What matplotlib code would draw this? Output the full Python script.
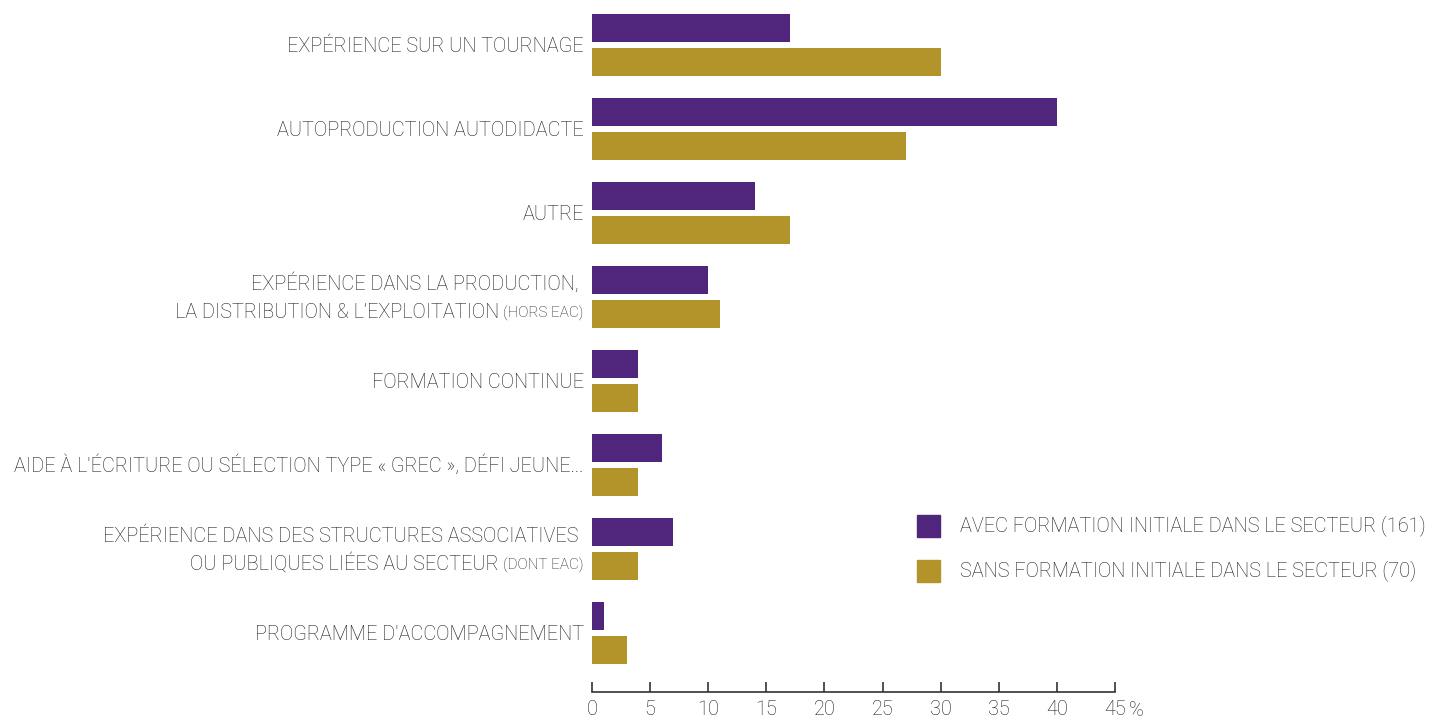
import matplotlib
matplotlib.use("Agg")
import matplotlib.pyplot as plt
import numpy as np
from matplotlib import font_manager

# ---- données ----
categories = [
    ("EXPÉRIENCE SUR UN TOURNAGE", ""),
    ("AUTOPRODUCTION AUTODIDACTE", ""),
    ("AUTRE", ""),
    ("EXPÉRIENCE DANS LA PRODUCTION, \nLA DISTRIBUTION & L’EXPLOITATION", "(HORS EAC)"),
    ("FORMATION CONTINUE", ""),
    ("AIDE À L'ÉCRITURE OU SÉLECTION TYPE « GREC », DÉFI JEUNE...", ""),
    ("EXPÉRIENCE DANS DES STRUCTURES ASSOCIATIVES \nOU PUBLIQUES LIÉES AU SECTEUR", "(DONT EAC)"),
    ("PROGRAMME D'ACCOMPAGNEMENT", ""),
]
avec = [17, 40, 14, 10, 4, 6, 7, 1]
sans = [30, 27, 17, 11, 4, 4, 4, 3]
series_labels = ["AVEC FORMATION INITIALE DANS LE SECTEUR (161)",
                 "SANS FORMATION INITIALE DANS LE SECTEUR (70)"]
xticks = [0, 5, 10, 15, 20, 25, 30, 35, 40, 45]

PURPLE = "#50267D"
GOLD = "#B3942B"
TXT = "#1e1e1e"

installed = {f.name for f in font_manager.fontManager.ttflist}
fam = next((f for f in ["Roboto", "Liberation Sans"] if f in installed), "DejaVu Sans")
plt.rcParams["font.family"] = [fam, "DejaVu Sans"]
plt.rcParams["font.weight"] = "light"

fig = plt.figure(figsize=(14.3, 7.2), dpi=100)
ax = fig.add_axes([592 / 1430, 1 - 692 / 720, (1115 - 592) / 1430, 692 / 720])

y = np.arange(len(categories))
h = 28 / 84
off = 17 / 84
ax.barh(y - off, avec, height=h, color=PURPLE)
ax.barh(y + off, sans, height=h, color=GOLD)

ax.set_xlim(0, 45)
ax.set_ylim(len(categories) - 1 + 59 / 84, -45 / 84)
for s in ("top", "right", "left"):
    ax.spines[s].set_visible(False)
ax.spines["bottom"].set_color("#333333")
ax.spines["bottom"].set_linewidth(1.2)
ax.set_yticks([])
ax.set_xticks(xticks)
ax.set_xticklabels([str(t) for t in xticks])
ax.tick_params(axis="x", direction="in", length=7.5, width=1.2, color="#333333",
               pad=6, labelsize=14.3, labelcolor=TXT)
ax.annotate("%", xy=(45, 0), xycoords=("data", "axes fraction"), xytext=(14, -18),
            textcoords="offset pixels", ha="left", va="center", fontsize=14.3, color=TXT)

fs = 14.3
fig.canvas.draw()
rend = fig.canvas.get_renderer()
for i, (main, small) in enumerate(categories):
    shift = -6
    if small:
        t = ax.annotate(small, xy=(0, i), xytext=(shift, -15), textcoords="offset points",
                        ha="right", va="baseline", fontsize=11, color=TXT)
        w = t.get_window_extent(rend).width * 72 / fig.dpi
        lines = main.split("\n")
        ax.annotate(lines[0], xy=(0, i), xytext=(shift, 5), textcoords="offset points",
                    ha="right", va="baseline", fontsize=fs, color=TXT)
        ax.annotate(lines[1], xy=(0, i), xytext=(shift - w - 3, -15), textcoords="offset points",
                    ha="right", va="baseline", fontsize=fs, color=TXT)
    else:
        ax.annotate(main, xy=(0, i), xytext=(shift, -5), textcoords="offset points",
                    ha="right", va="baseline", fontsize=fs, color=TXT)

# légende
for k, (lab, col) in enumerate(zip(series_labels, [PURPLE, GOLD])):
    yc = 1 - (526 + 45 * k) / 720
    fig.patches.append(plt.Rectangle((917 / 1430, yc - 11 / 720), 23 / 1430, 22 / 720,
                                     transform=fig.transFigure, color=col))
    fig.text(960 / 1430, yc, lab, ha="left", va="center", fontsize=fs, color=TXT)

fig.savefig("out.png", dpi=100)
